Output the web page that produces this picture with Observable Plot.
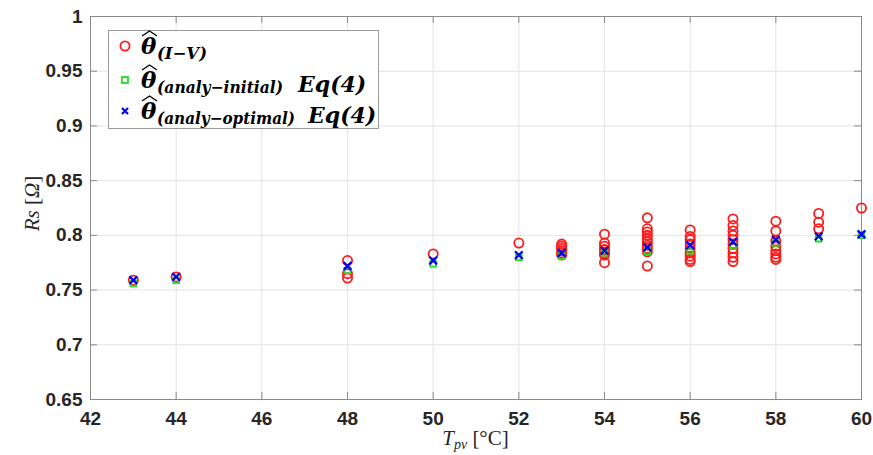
<!DOCTYPE html>
<html>
<head>
<meta charset="utf-8">
<script src="https://cdn.jsdelivr.net/npm/d3@7"></script>
<script src="https://cdn.jsdelivr.net/npm/@observablehq/plot@0.6"></script>
<style>
  html, body { margin: 0; padding: 0; background: #fff; }
  #chart { width: 873px; height: 455px; }
</style>
</head>
<body>
<div id="chart"></div>
<script>
// ---- data ----
const xTicks = [42, 44, 46, 48, 50, 52, 54, 56, 58, 60];
const yTicks = [0.65, 0.7, 0.75, 0.8, 0.85, 0.9, 0.95, 1];

// I-V estimates (theta_(I-V)), one entry per circle
const ivTemp = [
  43, 44, 48, 48, 48, 50, 52,
  53, 53, 53, 53, 53, 53,
  54, 54, 54, 54, 54, 54, 54,
  55, 55, 55, 55, 55, 55, 55, 55, 55, 55,
  56, 56, 56, 56, 56, 56, 56, 56, 56,
  57, 57, 57, 57, 57, 57, 57, 57, 57, 57,
  58, 58, 58, 58, 58, 58, 58, 58,
  59, 59, 59, 60
];
const ivRs = [
  0.759, 0.762, 0.777, 0.765, 0.761, 0.783, 0.793,
  0.792, 0.790, 0.788, 0.786, 0.784, 0.782,
  0.801, 0.793, 0.790, 0.787, 0.784, 0.782, 0.775,
  0.816, 0.806, 0.803, 0.800, 0.797, 0.794, 0.791, 0.788, 0.785, 0.772,
  0.805, 0.799, 0.796, 0.792, 0.788, 0.784, 0.781, 0.778, 0.776,
  0.815, 0.809, 0.804, 0.800, 0.796, 0.792, 0.788, 0.784, 0.780, 0.776,
  0.813, 0.804, 0.795, 0.790, 0.786, 0.783, 0.780, 0.778,
  0.820, 0.812, 0.806, 0.825
];

// analytical estimates
const analyTemp = [43, 44, 48, 50, 52, 53, 54, 55, 56, 57, 58, 59, 60];
const rsInitial = [0.756, 0.759, 0.768, 0.774, 0.780, 0.781, 0.784, 0.785, 0.786, 0.790, 0.793, 0.797, 0.800];
const rsOptimal = [0.759, 0.762, 0.772, 0.777, 0.782, 0.784, 0.786, 0.789, 0.791, 0.794, 0.796, 0.799, 0.801];

const legendSub = ["(I\u2212V)", "(analy\u2212initial)", "(analy\u2212optimal)"];
const legendEq = ["", "Eq(4)", "Eq(4)"];

// ---- build tables ----
const iv = ivTemp.map((t, i) => ({t, rs: ivRs[i]}));
const init = analyTemp.map((t, i) => ({t, rs: rsInitial[i]}));
const opt = analyTemp.map((t, i) => ({t, rs: rsOptimal[i]}));

const W = 873, H = 455;
const mL = 90, mR = 12, mT = 16, mB = 56;
const innerH = H - mT - mB, innerW = W - mL - mR;
const tickLen = 7;
const RED = "#ff1a1a", GREEN = "#22dd22", BLUE = "#0000ee";
const tickFont = "'Liberation Sans', Arial, sans-serif";

const svg = Plot.plot({
  width: W,
  height: H,
  marginLeft: mL,
  marginRight: mR,
  marginTop: mT,
  marginBottom: mB,
  style: {background: "#fff", color: "#262626"},
  x: {domain: [42, 60], label: null},
  y: {domain: [0.65, 1], label: null},
  marks: [
    Plot.gridX(xTicks, {stroke: "#e3e3e3", strokeOpacity: 1}),
    Plot.gridY(yTicks, {stroke: "#e3e3e3", strokeOpacity: 1}),
    Plot.frame({stroke: "#8a8a8a", strokeWidth: 1}),
    // inward ticks on all four sides
    Plot.tickX(xTicks, {x: d => d, stroke: "#8a8a8a", insetTop: innerH - tickLen}),
    Plot.tickX(xTicks, {x: d => d, stroke: "#8a8a8a", insetBottom: innerH - tickLen}),
    Plot.tickY(yTicks, {y: d => d, stroke: "#8a8a8a", insetRight: innerW - tickLen}),
    Plot.tickY(yTicks, {y: d => d, stroke: "#8a8a8a", insetLeft: innerW - tickLen}),
    Plot.axisX(xTicks, {tickSize: 0, tickPadding: 12, fontSize: 19, fontWeight: "bold",
      fontFamily: tickFont, fill: "#262626", tickFormat: d => String(d), label: null}),
    Plot.axisY(yTicks, {tickSize: 0, tickPadding: 8, fontSize: 19, fontWeight: "bold",
      fontFamily: tickFont, fill: "#262626", tickFormat: d => String(d), label: null}),
    Plot.dot(iv, {x: "t", y: "rs", r: 4.6, stroke: RED, strokeWidth: 1.8, fill: "none"}),
    Plot.dot(init, {x: "t", y: "rs", symbol: "square", r: 3.2, stroke: GREEN, strokeWidth: 1.8, fill: "none"}),
    Plot.dot(opt, {x: "t", y: "rs", symbol: "times", r: 3.6, stroke: BLUE, strokeWidth: 2.2})
  ]
});

document.getElementById("chart").appendChild(svg);

const s = d3.select(svg);
const serif = "'DejaVu Serif', 'Liberation Serif', serif";

// x-axis label: T_pv [°C]
const xl = s.append("text")
  .attr("x", mL + innerW / 2).attr("y", 445)
  .attr("text-anchor", "middle")
  .attr("font-family", "'Liberation Serif', serif")
  .attr("font-size", 21).attr("fill", "#262626");
xl.append("tspan").attr("font-style", "italic").text("T");
xl.append("tspan").attr("font-style", "italic").attr("font-size", 14).attr("dy", 4).text("pv");
xl.append("tspan").attr("dy", -4).text(" [\u00B0C]");

// y-axis label: Rs [Ω]
const yl = s.append("text")
  .attr("transform", `translate(39,${mT + innerH / 2 - 4}) rotate(-90)`)
  .attr("text-anchor", "middle")
  .attr("font-family", "'Liberation Serif', serif")
  .attr("font-size", 21).attr("fill", "#262626");
yl.append("tspan").attr("font-style", "italic").text("Rs");
yl.append("tspan").text(" [");
yl.append("tspan").attr("font-style", "italic").text("\u03A9");
yl.append("tspan").text("]");

// legend
const lg = s.append("g").attr("text-anchor", "start");
lg.append("rect").attr("x", 108.5).attr("y", 30.5).attr("width", 270).attr("height", 98)
  .attr("fill", "#fff").attr("stroke", "#9a9a9a").attr("stroke-width", 1);
const rowY = [46, 80, 111];
const mx = 125;
// markers
lg.append("circle").attr("cx", mx).attr("cy", rowY[0]).attr("r", 4.6)
  .attr("fill", "none").attr("stroke", RED).attr("stroke-width", 1.8);
lg.append("rect").attr("x", mx - 3).attr("y", rowY[1] - 3).attr("width", 6).attr("height", 6)
  .attr("fill", "none").attr("stroke", GREEN).attr("stroke-width", 1.8);
lg.append("path").attr("d", `M${mx-3},${rowY[2]-3}L${mx+3},${rowY[2]+3}M${mx-3},${rowY[2]+3}L${mx+3},${rowY[2]-3}`)
  .attr("stroke", BLUE).attr("stroke-width", 2.2);
// labels
const eqX = [0, 298, 308];
const subW = [50, 126, 138];
const thetaX = 141;
legendSub.forEach((sub, i) => {
  const base = rowY[i] + 8;
  lg.append("text")
    .attr("x", thetaX).attr("y", base)
    .attr("font-family", serif).attr("font-weight", "bold").attr("font-style", "italic")
    .attr("font-size", 23).attr("fill", "#000").attr("text-anchor", "start")
    .text("\u03B8");
  lg.append("text")
    .attr("x", thetaX + 16).attr("y", base + 5)
    .attr("font-family", serif).attr("font-weight", "bold").attr("font-style", "italic")
    .attr("font-size", 16).attr("fill", "#000").attr("text-anchor", "start")
    .attr("textLength", subW[i]).attr("lengthAdjust", "spacingAndGlyphs")
    .text(sub);
  // wide hat over theta
  lg.append("path")
    .attr("d", `M${thetaX + 1},${base - 18} L${thetaX + 8.5},${base - 23} L${thetaX + 16},${base - 18}`)
    .attr("fill", "none").attr("stroke", "#000").attr("stroke-width", 1.3);
  if (legendEq[i]) {
    lg.append("text")
      .attr("x", eqX[i]).attr("y", rowY[i] + 12)
      .attr("font-family", serif).attr("font-weight", "bold").attr("font-style", "italic")
      .attr("font-size", 22).attr("fill", "#000").attr("text-anchor", "start")
      .text(legendEq[i]);
  }
});
</script>
</body>
</html>
